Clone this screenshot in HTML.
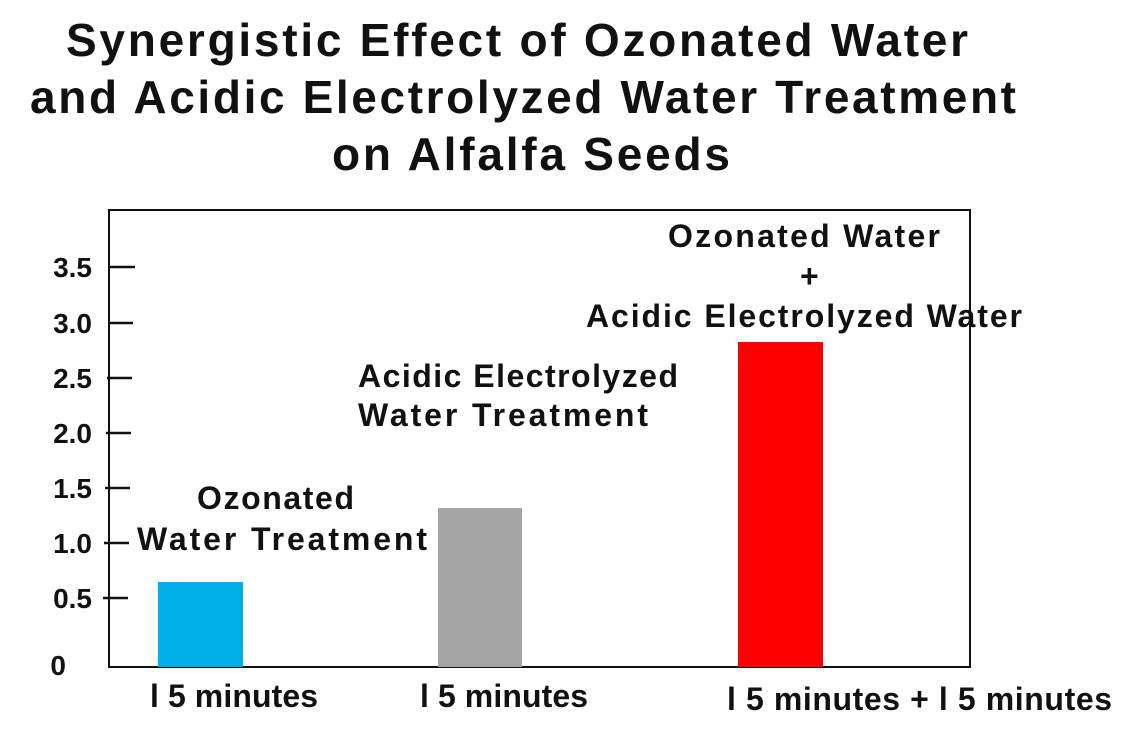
<!DOCTYPE html>
<html><head><style>
body{margin:0;background:#fff;width:1132px;height:738px;overflow:hidden;position:relative;font-family:"Liberation Sans",sans-serif;color:#111}
</style></head><body>
<svg width="1132" height="738" style="position:absolute;left:0;top:0" font-family="Liberation Sans, sans-serif">
<g font-size="46" font-weight="bold" fill="#111">
<text x="66" y="56" textLength="902" lengthAdjust="spacing">Synergistic Effect of Ozonated Water</text>
<text x="30" y="113" textLength="986" lengthAdjust="spacing">and Acidic Electrolyzed Water Treatment</text>
<text x="332" y="170" textLength="398" lengthAdjust="spacing">on Alfalfa Seeds</text>
</g>
<rect x="109" y="210" width="861" height="457" fill="none" stroke="#111" stroke-width="2"/>
<g stroke="#111" stroke-width="2.5">
<line x1="110" y1="267" x2="135" y2="267"/>
<line x1="108" y1="323" x2="133" y2="323"/>
<line x1="107" y1="378" x2="132" y2="378"/>
<line x1="106" y1="433" x2="131" y2="433"/>
<line x1="105" y1="488" x2="130" y2="488"/>
<line x1="104" y1="543" x2="129" y2="543"/>
<line x1="103" y1="598" x2="128" y2="598"/>
</g>
<rect x="158" y="582" width="85" height="85" fill="#00aeea"/>
<rect x="438" y="508" width="84" height="159" fill="#a5a5a5"/>
<rect x="738" y="342" width="85" height="325" fill="#ff0000"/>
<g font-size="28" font-weight="bold" fill="#111" text-anchor="end">
<text x="92" y="277">3.5</text><text x="92" y="333">3.0</text><text x="92" y="388">2.5</text>
<text x="92" y="443">2.0</text><text x="92" y="498">1.5</text><text x="92" y="553">1.0</text>
<text x="92" y="608">0.5</text><text x="66" y="675">0</text>
</g>
<g font-size="32" font-weight="bold" fill="#111">
<text x="197" y="509" textLength="157" lengthAdjust="spacing">Ozonated</text>
<text x="137" y="550" textLength="290" lengthAdjust="spacing">Water Treatment</text>
<text x="358" y="387" textLength="320" lengthAdjust="spacing">Acidic Electrolyzed</text>
<text x="358" y="426" textLength="290" lengthAdjust="spacing">Water Treatment</text>
<text x="668" y="247" textLength="272" lengthAdjust="spacing">Ozonated Water</text>
<text x="800" y="287">+</text>
<text x="586" y="327" textLength="436" lengthAdjust="spacing">Acidic Electrolyzed Water</text>
<text x="150" y="707" textLength="168" lengthAdjust="spacing">l 5 minutes</text>
<text x="420" y="707" textLength="168" lengthAdjust="spacing">l 5 minutes</text>
<text x="727" y="710" textLength="385" lengthAdjust="spacing">l 5 minutes + l 5 minutes</text>
</g>
</svg>
</body></html>
